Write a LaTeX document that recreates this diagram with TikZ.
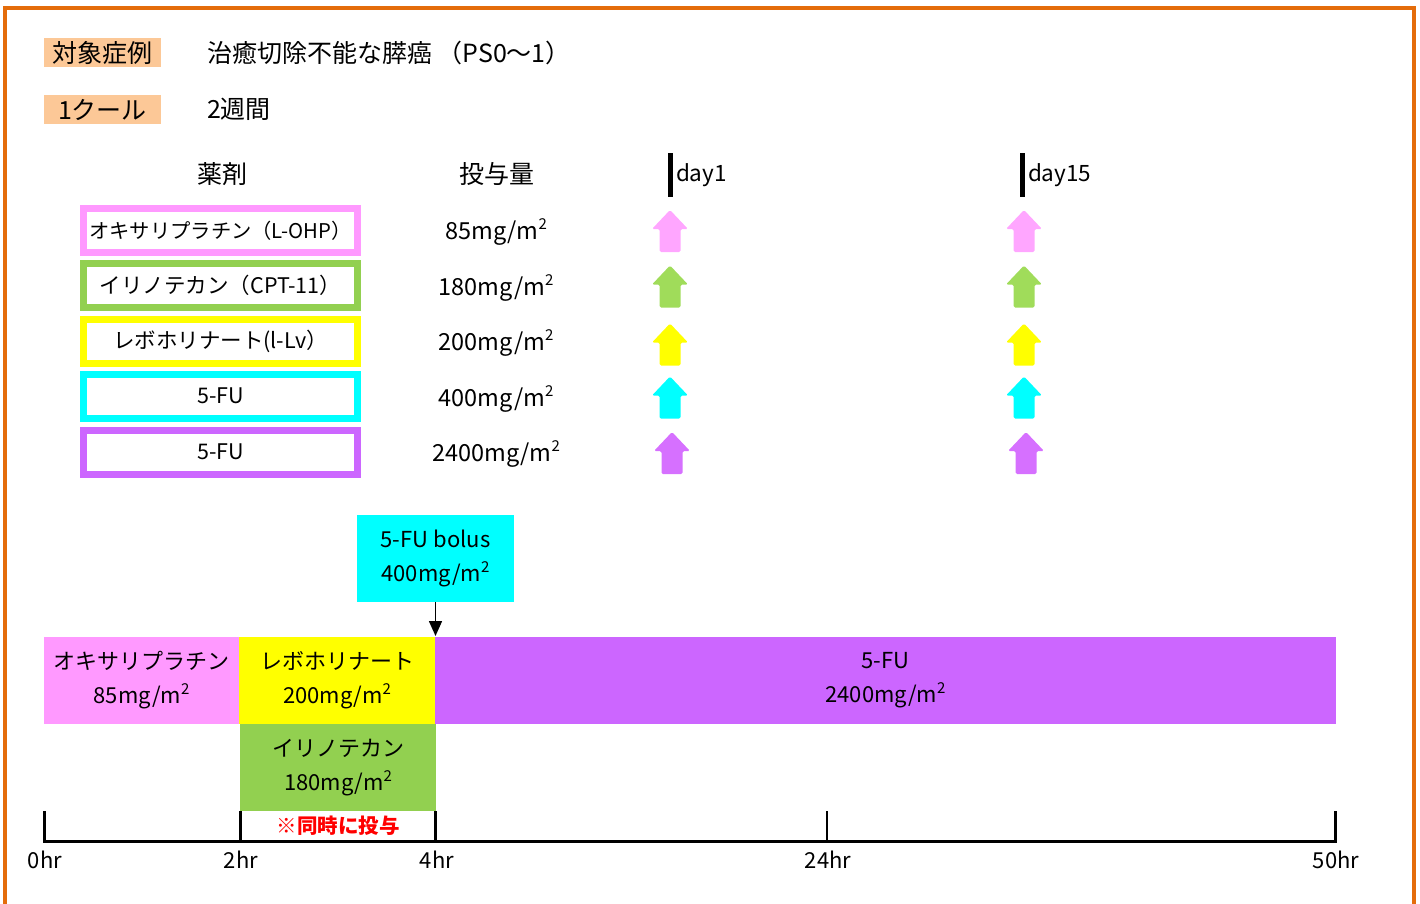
\documentclass[tikz,border=0pt]{standalone}
\usepackage{fontspec}
\setmainfont{Noto Sans CJK JP}
\usetikzlibrary{arrows.meta}
\definecolor{borderor}{HTML}{E46C0A}
\definecolor{peach}{HTML}{FCC897}
\definecolor{pinkc}{HTML}{FF99FF}
\definecolor{greenc}{HTML}{92D050}
\definecolor{yellowc}{HTML}{FFFF00}
\definecolor{cyanc}{HTML}{00FFFF}
\definecolor{purplec}{HTML}{CC66FF}
\definecolor{arrpink}{HTML}{FFA6FF}
\definecolor{arrgreen}{HTML}{A0DC5A}
\definecolor{arrpurple}{HTML}{D670FF}
\definecolor{redtext}{HTML}{FF0000}
\newcommand{\sqm}{m\raisebox{0.42em}{\fontsize{15}{15}\selectfont 2}}
\begin{document}
\begin{tikzpicture}[x=1pt,y=-1pt,
  every node/.style={inner sep=0pt,outer sep=0pt},
  hdr/.style={font=\fontsize{25}{28}\selectfont},
  tag/.style={hdr,fill=peach,minimum width=117,minimum height=29},
  drugbox/.style={draw=#1,line width=7,fill=white,minimum width=274,minimum height=44,font=\fontsize{21.5}{24}\selectfont},
  dose/.style={font=\fontsize{23.5}{26}\selectfont},
  daylbl/.style={font=\fontsize{22.5}{24}\selectfont,anchor=west},
  daybar/.style={line width=4.5},
  bar/.style={fill=#1,minimum height=87,align=center,font=\fontsize{22}{34}\selectfont},
  ticklbl/.style={font=\fontsize{22}{24}\selectfont},
  tick/.style={line width=2.5},
  uparr/.pic={\fill[#1,rounded corners=1.5] (0,-21) -- (18,-2) -- (10.5,-2) -- (10.5,21) -- (-10.5,21) -- (-10.5,-2) -- (-18,-2) -- cycle;}]
\useasboundingbox (0,0) rectangle (1420,903);
% border
\draw[borderor,line width=4.5] (5,910) -- (5,8) -- (1414,8) -- (1414,910);
% header
\node[tag] (tgt) at (102.5,52.5) {対象症例};
\node[hdr,anchor=west] (tgtv) at (207,52.5) {治癒切除不能な膵癌 （PS0〜1）};
\node[tag] (cyc) at (102.5,109.5) {1クール};
\node[hdr,anchor=west] (cycv) at (207,109.5) {2週間};
% table headers
\node[hdr] (hdrug) at (222,174) {薬剤};
\node[hdr] (hdose) at (497,174) {投与量};
\draw[daybar] (670.5,153) -- (670.5,197);
\node[daylbl] (day1) at (676,175) {day1};
\draw[daybar] (1022.5,153) -- (1022.5,197);
\node[daylbl] (day15) at (1028,175) {day15};
% drug boxes
\node[drugbox=pinkc,font=\fontsize{20.3}{24}\selectfont] (d1) at (220.5,230.5) {オキサリプラチン（L-OHP）};
\node[drugbox=greenc] (d2) at (220.5,285.5) {イリノテカン（CPT-11）};
\node[drugbox=yellowc] (d3) at (220.5,341) {レボホリナート(l-Lv）};
\node[drugbox=cyanc] (d4) at (220.5,396) {5-FU};
\node[drugbox=purplec] (d5) at (220.5,452) {5-FU};
% doses
\node[dose] (q1) at (496,232) {85mg/\sqm};
\node[dose] (q2) at (496,288) {180mg/\sqm};
\node[dose] (q3) at (496,343) {200mg/\sqm};
\node[dose] (q4) at (496,399) {400mg/\sqm};
\node[dose] (q5) at (496,454) {2400mg/\sqm};
% arrows day1
\pic at (670,231) {uparr=arrpink};
\pic at (670,286.5) {uparr=arrgreen};
\pic at (670,344.5) {uparr=yellowc};
\pic at (670,397.5) {uparr=cyanc};
\pic at (672,453) {uparr=arrpurple};
% arrows day15
\pic at (1024,231) {uparr=arrpink};
\pic at (1024,286.5) {uparr=arrgreen};
\pic at (1024,344.5) {uparr=yellowc};
\pic at (1024,397.5) {uparr=cyanc};
\pic at (1026,453) {uparr=arrpurple};
% timeline
\node[bar=cyanc,minimum width=157] (bolus) at (435.5,558.5) {5-FU bolus\\400mg/\sqm};
\node[bar=pinkc,minimum width=195] (ox) at (141.5,680.5) {オキサリプラチン\\85mg/\sqm};
\node[bar=yellowc,minimum width=196] (lev) at (337,680.5) {レボホリナート\\200mg/\sqm};
\node[bar=purplec,minimum width=901] (fu) at (885.5,680.5) {5-FU\\2400mg/\sqm};
\node[bar=greenc,minimum width=196] (iri) at (338,767.5) {イリノテカン\\180mg/\sqm};
\coordinate (bolustip) at (435.5,636);
\draw[line width=1.5,-{Triangle[length=15,width=13]}] (bolus.south) -- (bolustip);
% axis
\draw[line width=3] (43,841) -- (1337,841);
\draw[tick] (44.5,811) -- (44.5,842);
\draw[tick] (240.5,811) -- (240.5,842);
\draw[tick] (435.5,811) -- (435.5,842);
\draw[tick] (827,811) -- (827,842);
\draw[tick] (1335.5,811) -- (1335.5,842);
\node[ticklbl] (t0) at (45,860) {0hr};
\node[ticklbl] (t2) at (241,860) {2hr};
\node[ticklbl] (t4) at (437,860) {4hr};
\node[ticklbl] (t24) at (828,860) {24hr};
\node[ticklbl] (t50) at (1336,860) {50hr};
\node[font=\fontsize{20.5}{22}\selectfont\bfseries,text=redtext] (sim) at (338,826) {※同時に投与};
\end{tikzpicture}
\end{document}
